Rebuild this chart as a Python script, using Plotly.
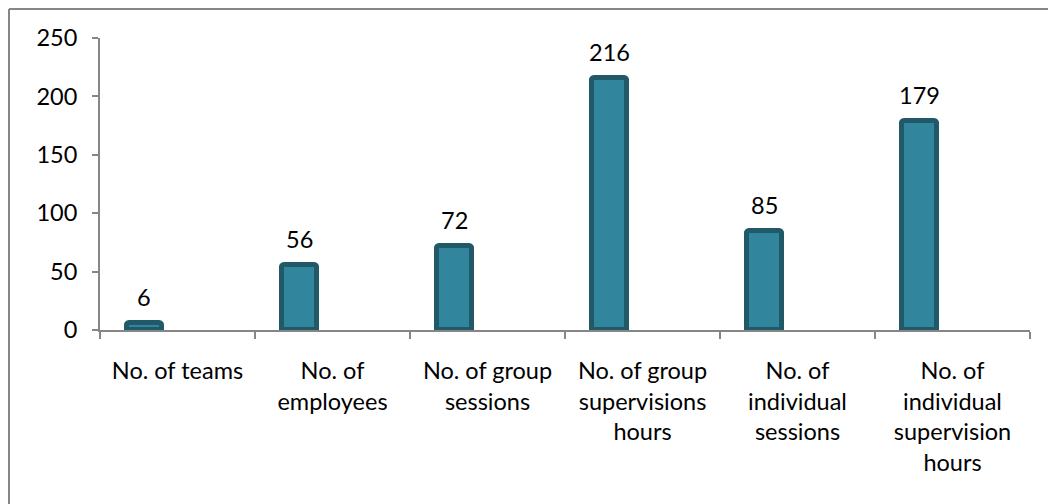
import plotly.graph_objects as go

# Supervision activity counts
categories = [
    "No. of teams",
    "No. of<br>employees",
    "No. of group<br>sessions",
    "No. of group<br>supervisions<br>hours",
    "No. of<br>individual<br>sessions",
    "No. of<br>individual<br>supervision<br>hours",
]
values = [6, 56, 72, 216, 85, 179]
y_ticks = [0, 50, 100, 150, 200, 250]

FONT = "Lato"
FONT_SIZE = 23.5
BAR_FILL = "#31859C"
BAR_EDGE = "#215968"
AXIS_GREY = "#868686"

BAR_WIDTH = 0.226
BAR_OFFSET = -0.329

fig = go.Figure()
fig.add_trace(go.Bar(
    x=categories,
    y=values,
    width=BAR_WIDTH,
    offset=BAR_OFFSET,
    marker=dict(color=BAR_FILL, line=dict(color=BAR_EDGE, width=5), cornerradius=3),
    hoverinfo="skip",
    showlegend=False,
))

# value labels centred over each bar
for cat, val in zip(categories, values):
    fig.add_annotation(
        x=cat, y=val, xref="x", yref="y",
        text=str(val), showarrow=False,
        xshift=(BAR_OFFSET + BAR_WIDTH / 2) * 155,
        yanchor="bottom", yshift=10,
        font=dict(family=FONT, size=FONT_SIZE, color="#000000"),
    )

fig.update_layout(
    width=1048, height=504,
    margin=dict(l=100, r=18, t=38, b=174),
    paper_bgcolor="white", plot_bgcolor="white",
    font=dict(family=FONT, size=FONT_SIZE, color="#000000"),
    bargap=0,
    shapes=[
        dict(type="line", xref="paper", yref="paper",
             x0=-91 / 930, x1=1.03, y0=1 + 29 / 292, y1=1 + 29 / 292,
             line=dict(color=AXIS_GREY, width=2)),
        dict(type="line", xref="paper", yref="paper",
             x0=-91 / 930, x1=-91 / 930, y0=1 + 29 / 292, y1=-0.7,
             line=dict(color=AXIS_GREY, width=2)),
    ],
)

fig.update_xaxes(
    type="category",
    tickson="boundaries",
    ticks="outside", ticklen=7, tickwidth=2, tickcolor=AXIS_GREY,
    showline=True, linecolor=AXIS_GREY, linewidth=2,
    showgrid=False, zeroline=False,
    ticklabelstandoff=19,
    tickfont=dict(family=FONT, size=FONT_SIZE),
)
fig.update_yaxes(
    range=[0, 250],
    tickvals=y_ticks,
    ticks="outside", ticklen=6, tickwidth=2, tickcolor=AXIS_GREY,
    showline=True, linecolor=AXIS_GREY, linewidth=2,
    showgrid=False, zeroline=False,
    ticklabelstandoff=10,
    tickfont=dict(family=FONT, size=FONT_SIZE),
)

fig.write_html("out.html")
